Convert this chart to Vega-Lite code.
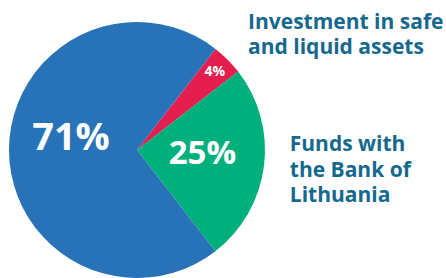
{
  "$schema": "https://vega.github.io/schema/vega-lite/v6.json",
  "width": 274,
  "height": 278,
  "autosize": "none",
  "padding": {"left": 0, "top": 11, "right": 172, "bottom": 0},
  "background": "white",
  "view": {"stroke": null},
  "data": {
    "values": [
      {"name": "Investment in safe\nand liquid assets", "pct": 4, "label": "4%", "rank": 1},
      {"name": "Funds with\nthe Bank of\nLithuania", "pct": 25, "label": "25%", "rank": 2},
      {"name": "Other", "pct": 71, "label": "71%", "rank": 3}
    ]
  },
  "encoding": {
    "theta": {"field": "pct", "type": "quantitative", "stack": true, "scale": {"range": [0.66, 6.9432]}},
    "order": {"field": "rank", "type": "quantitative"}
  },
  "layer": [
    {
      "mark": {"type": "arc", "outerRadius": 128},
      "encoding": {
        "color": {"field": "name", "type": "nominal", "sort": null, "legend": null,
          "scale": {"domain": ["Investment in safe\nand liquid assets", "Funds with\nthe Bank of\nLithuania", "Other"], "range": ["#e41e4e", "#00b07c", "#2872b8"]}}
      }
    },
    {
      "mark": {"type": "text", "radius": 66, "dy": -11, "fontSize": 38, "font": "Open Sans", "fontWeight": "bold", "fill": "white"},
      "encoding": {
        "detail": {"field": "name", "type": "nominal"},
        "text": {"condition": {"test": "datum.rank == 3", "field": "label"}, "value": ""}
      }
    },
    {
      "mark": {"type": "text", "radius": 66, "dy": -4, "fontSize": 33, "font": "Open Sans", "fontWeight": "bold", "fill": "white"},
      "encoding": {
        "detail": {"field": "name", "type": "nominal"},
        "text": {"condition": {"test": "datum.rank == 2", "field": "label"}, "value": ""}
      }
    },
    {
      "mark": {"type": "text", "radius": 110, "fontSize": 14, "font": "Open Sans", "fontWeight": "bold", "fill": "white"},
      "encoding": {
        "detail": {"field": "name", "type": "nominal"},
        "text": {"condition": {"test": "datum.rank == 1", "field": "label"}, "value": ""}
      }
    },
    {
      "mark": {"type": "text", "radius": 157, "dy": -16, "align": "left", "baseline": "middle", "lineBreak": "\n", "lineHeight": 25, "fontSize": 21, "font": "Open Sans", "fontWeight": "bold", "fill": "#15698e"},
      "encoding": {
        "detail": {"field": "name", "type": "nominal"},
        "text": {"condition": {"test": "datum.rank == 1", "field": "name"}, "value": ""}
      }
    },
    {
      "mark": {"type": "text", "radius": 154, "dy": -24, "align": "left", "baseline": "middle", "lineBreak": "\n", "lineHeight": 25.5, "fontSize": 21, "font": "Open Sans", "fontWeight": "bold", "fill": "#15698e"},
      "encoding": {
        "detail": {"field": "name", "type": "nominal"},
        "text": {"condition": {"test": "datum.rank == 2", "field": "name"}, "value": ""}
      }
    }
  ]
}
